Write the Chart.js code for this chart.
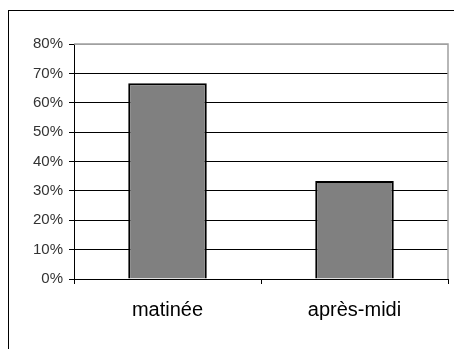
<!DOCTYPE html>
<html>
<head>
<meta charset="utf-8">
<script src="https://cdn.jsdelivr.net/npm/chart.js@4/dist/chart.umd.min.js"></script>
<style>
  html, body { margin: 0; padding: 0; background: #fff; overflow: hidden; width: 454px; height: 349px; }
  #frame { position: absolute; left: 8px; top: 10px; width: 500px; height: 400px; border: 1px solid #000; box-sizing: border-box; }
  #c { position: absolute; left: 0; top: 0; }
</style>
</head>
<body>
<div id="frame"></div>
<canvas id="c" width="454" height="349"></canvas>
<script>
const categories = ["matinée", "après-midi"];
const shares = [0.6667, 0.3333];
const yTicks = [0, 0.1, 0.2, 0.3, 0.4, 0.5, 0.6, 0.7, 0.8];

const plotFrame = {
  id: 'plotFrame',
  afterDatasetsDraw(chart) {
    const { ctx, chartArea: a } = chart;
    ctx.save();
    ctx.strokeStyle = '#a0a0a0';
    ctx.lineWidth = 1.5;
    ctx.beginPath();
    ctx.moveTo(a.left, a.top);
    ctx.lineTo(a.right, a.top);
    ctx.lineTo(a.right, a.bottom);
    ctx.stroke();
    ctx.restore();
  }
};

new Chart(document.getElementById('c'), {
  type: 'bar',
  data: {
    labels: categories,
    datasets: [{
      data: shares,
      backgroundColor: '#808080',
      borderColor: '#000',
      borderWidth: 2,
      categoryPercentage: 1,
      barPercentage: 0.42
    }]
  },
  options: {
    responsive: false,
    animation: false,
    devicePixelRatio: 1,
    layout: { padding: { top: 44, right: 6, left: 0, bottom: 0 } },
    plugins: { legend: { display: false }, tooltip: { enabled: false } },
    scales: {
      x: {
        afterFit(s) { s.height = 70; },
        grid: { display: true, drawOnChartArea: false, drawTicks: true, tickLength: 5, color: '#000', offset: true },
        border: { display: true, color: '#000', width: 1 },
        ticks: { color: '#000', font: { family: 'Liberation Sans, Arial', size: 20 }, padding: 14, maxRotation: 0 }
      },
      y: {
        min: 0, max: 0.8,
        afterFit(s) { s.width = 74; },
        afterBuildTicks(s) { s.ticks = yTicks.map(v => ({ value: v })); },
        grid: {
          color: ctx => (ctx.tick && ctx.tick.value >= 0.8 ? '#a0a0a0' : '#000'),
          lineWidth: 1,
          tickLength: 5,
          tickColor: '#000'
        },
        border: { display: true, color: '#000', width: 1 },
        ticks: {
          color: '#333',
          font: { family: 'Liberation Sans, Arial', size: 15 },
          padding: 6,
          callback: v => Math.round(v * 100) + '%'
        }
      }
    }
  },
  plugins: [plotFrame]
});
</script>
</body>
</html>
